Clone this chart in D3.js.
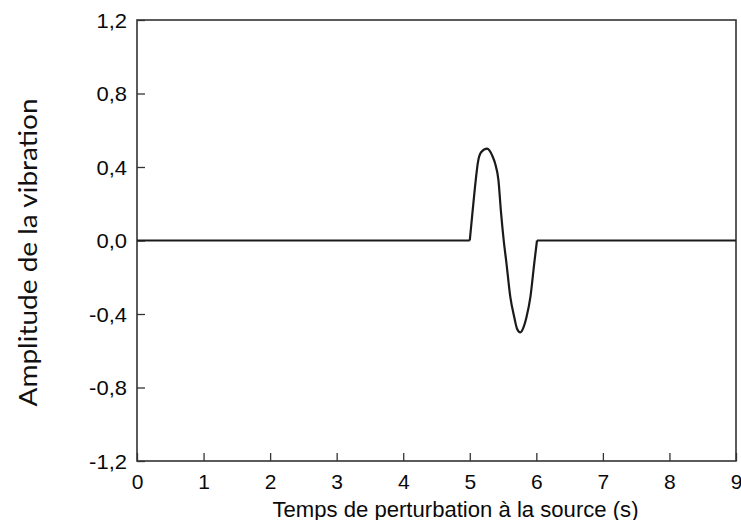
<!DOCTYPE html>
<html><head><meta charset="utf-8">
<script src="https://cdn.jsdelivr.net/npm/d3@7"></script>
<style>body{margin:0;background:#fff}svg{display:block}</style>
</head><body>
<svg id="c" width="741" height="520"></svg>
<script>
const xTicks = [0,1,2,3,4,5,6,7,8,9];
const yTicks = [-1.2,-0.8,-0.4,0.0,0.4,0.8,1.2];
// flat (silent) parts of the signal
const restTimes = [[0, 5.0], [6.01, 9]];
// pulse
const pulseTimes = [5.00,5.04,5.09,5.12,5.17,5.26,5.34,5.38,5.43,5.47,5.51,5.55,5.61,5.67,5.71,5.76,5.81,5.85,5.91,5.97,6.01];
const pulseAmp   = [0,   0.15,0.33,0.42,0.48,0.50,0.46,0.42,0.33,0.15,0,  -0.12,-0.31,-0.42,-0.48,-0.50,-0.47,-0.42,-0.31,-0.12,0];
const xTitle = "Temps de perturbation à la source (s)";
const yTitle = "Amplitude de la vibration";

const svg = d3.select("#c");
const L=137, R=736, T=20, B=461;
const x = d3.scaleLinear().domain([0,9]).range([L,R]);
const y = d3.scaleLinear().domain([-1.2,1.2]).range([B,T]);
const fmt = d => d3.format(".1f")(d).replace(".", ",").replace("−","-");
const FONT = "'Liberation Sans', Arial, sans-serif";

const ax = svg.append("g").attr("transform",`translate(0,${B})`)
  .call(d3.axisBottom(x).tickValues(xTicks).tickSize(-8).tickPadding(13).tickFormat(d3.format("d")));
const ay = svg.append("g").attr("transform",`translate(${L},0)`)
  .call(d3.axisLeft(y).tickValues(yTicks).tickSize(-8).tickPadding(10).tickFormat(fmt));
[ax,ay].forEach(g=>{
  g.attr("font-family",FONT).attr("font-size",null);
  g.select(".domain").remove();
  g.selectAll(".tick line").attr("stroke","#333").attr("stroke-width",1.3);
  g.selectAll(".tick text").attr("fill","#0a0a0a").style("font-family",FONT);
});
ax.selectAll(".tick text").style("font-size","21px").attr("dy","0.71em");
ay.selectAll(".tick text").style("font-size","20px").attr("x",0).attr("dy","0.36em")
  .attr("transform","translate(-10,0) scale(1.1,1)");

svg.append("rect").attr("x",L).attr("y",T).attr("width",R-L).attr("height",B-T)
  .attr("fill","none").attr("stroke","#333").attr("stroke-width",1.6);

const line = d3.line().x(d=>x(d[0])).y(d=>y(d[1]));
restTimes.forEach(seg=>{
  svg.append("path").datum(seg.map(t=>[t,0]))
    .attr("d", line).attr("fill","none").attr("stroke","#1a1a1a").attr("stroke-width",2.2);
});
svg.append("path").datum(pulseTimes.map((t,i)=>[t,pulseAmp[i]]))
  .attr("d", line.curve(d3.curveMonotoneX))
  .attr("fill","none").attr("stroke","#1a1a1a").attr("stroke-width",2.2).attr("stroke-linejoin","round");

svg.append("text").attr("x",455.5).attr("y",516.5).attr("text-anchor","middle")
  .style("font-family",FONT).style("font-size","21.5px").attr("fill","#0a0a0a")
  .attr("textLength",366).attr("lengthAdjust","spacingAndGlyphs").text(xTitle);

svg.append("text").attr("transform","translate(36.5,252.5) rotate(-90)").attr("text-anchor","middle")
  .style("font-family","Lato, 'Open Sans', sans-serif").style("font-size","25px").attr("fill","#111")
  .attr("textLength",308).attr("lengthAdjust","spacingAndGlyphs").text(yTitle);
</script>
</body></html>
